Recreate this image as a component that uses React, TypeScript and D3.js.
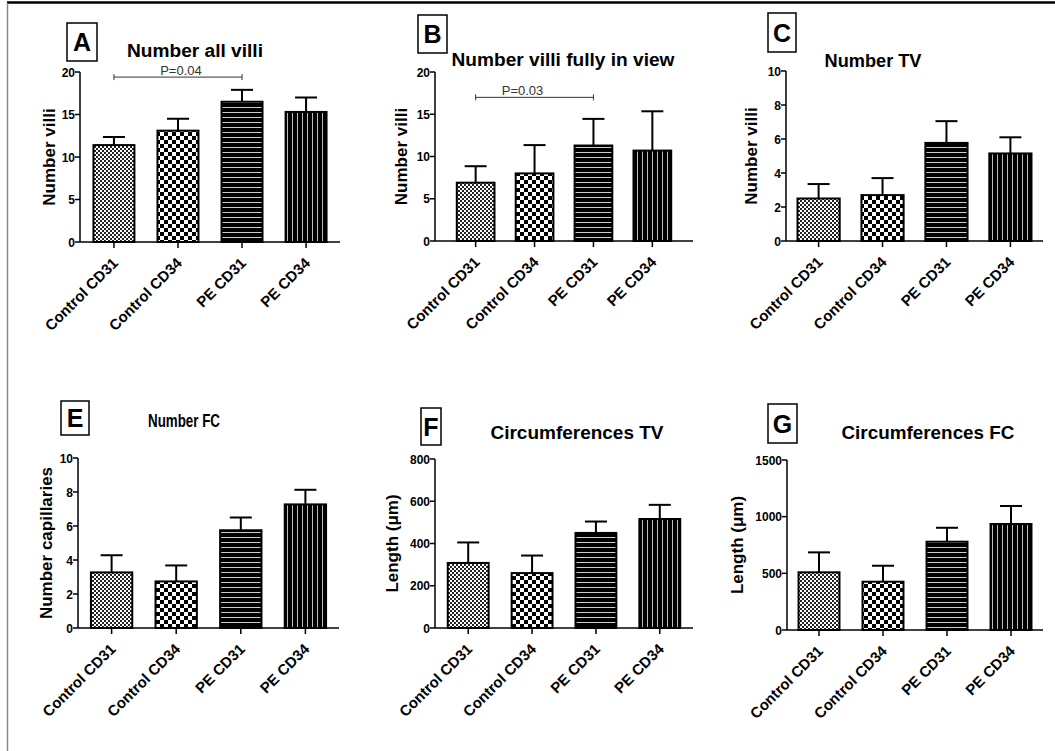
import * as d3 from "d3";

// groups on the x axis (same in every panel)
const categories = ["Control CD31", "Control CD34", "PE CD31", "PE CD34"];

const panelLetters = ["A", "B", "C", "E", "F", "G"];
const panelTitles = [
  "Number all villi",
  "Number villi fully in view",
  "Number TV",
  "Number FC",
  "Circumferences TV",
  "Circumferences FC",
];
const yAxisTitles = [
  "Number villi",
  "Number villi",
  "Number villi",
  "Number capillaries",
  "Length (\u03bcm)",
  "Length (\u03bcm)",
];
const yMax = [20, 20, 10, 10, 800, 1500];
const yStep = [5, 5, 2, 2, 200, 500];

// bar heights (mean) and upper error (SEM) per panel
const meanA = [11.4, 13.1, 16.5, 15.3];
const semA = [0.95, 1.4, 1.4, 1.7];
const meanB = [6.9, 8.0, 11.3, 10.7];
const semB = [1.95, 3.35, 3.15, 4.65];
const meanC = [2.5, 2.7, 5.77, 5.15];
const semC = [0.85, 1.0, 1.28, 0.95];
const meanE = [3.27, 2.74, 5.75, 7.27];
const semE = [1.01, 0.94, 0.75, 0.86];
const meanF = [308, 260, 450, 516];
const semF = [97, 83, 54, 67];
const meanG = [509, 426, 779, 935];
const semG = [176, 141, 123, 159];

const means = [meanA, meanB, meanC, meanE, meanF, meanG];
const sems = [semA, semB, semC, semE, semF, semG];

// significance brackets (panel index, from, to, level, label)
const sigPanels = [0, 1];
const sigFrom = ["Control CD31", "Control CD31"];
const sigTo = ["PE CD31", "PE CD31"];
const sigLevel = [19.4, 17.0];
const sigText = ["P=0.04", "P=0.03"];

// layout of each panel in page pixels
const layout = [
  { x0: 80, x1: 340, yTop: 72, yBot: 242, pi: 0.36, po: 0.21, box: [67, 23, 30, 38], title: [195, 57, 136], yl: 55, sigDx: 3 },
  { x0: 435, x1: 693, yTop: 72, yBot: 241, pi: 0.36, po: 0.37, box: [418, 15, 29, 38], title: [563, 66, 223], yl: 407, sigDx: -12 },
  { x0: 786, x1: 1043, yTop: 71, yBot: 241, pi: 0.34, po: 0.18, box: [768, 13, 28, 39], title: [873, 67, 97], yl: 757, sigDx: 0 },
  { x0: 78, x1: 339, yTop: 458, yBot: 628, pi: 0.36, po: 0.2, box: [61, 401, 28, 34], title: [184, 427, 72], yl: 52, sigDx: 0 },
  { x0: 435, x1: 693, yTop: 459, yBot: 628, pi: 0.36, po: 0.2, box: [421, 408, 20, 37], title: [577, 439, 173], yl: 398, sigDx: 0 },
  { x0: 787, x1: 1043, yTop: 460, yBot: 630, pi: 0.36, po: 0.18, box: [768, 404, 29, 39], title: [928, 439, 173], yl: 743, sigDx: 0 },
];

const font = "'Liberation Sans', Arial, sans-serif";
const fills = ["url(#fineCheck)", "url(#bigCheck)", "url(#hLines)", "url(#vLines)"];

function Panel({ i }: { i: number }) {
  const L = layout[i];
  const x = d3
    .scaleBand()
    .domain(categories)
    .range([L.x0, L.x1])
    .paddingInner(L.pi)
    .paddingOuter(L.po);
  const y = d3.scaleLinear().domain([0, yMax[i]]).range([L.yBot, L.yTop]);
  const ticks = d3.range(0, yMax[i] + yStep[i] / 2, yStep[i]);
  const bw = x.bandwidth();
  const sigIdx = sigPanels.indexOf(i);
  const [bx, by, bwid, bh] = L.box;
  const [tx, tyy, tw] = L.title;

  return (
    <g fontFamily={font}>
      {/* panel letter box */}
      <rect x={bx} y={by} width={bwid} height={bh} fill="none" stroke="#000" strokeWidth={1.5} />
      <text x={bx + bwid / 2} y={by + bh / 2 + 9} textAnchor="middle" fontSize={25} fontWeight="bold">
        {panelLetters[i]}
      </text>
      <text x={tx} y={tyy} textAnchor="middle" fontSize={18} fontWeight="bold"
        textLength={tw} lengthAdjust="spacingAndGlyphs">
        {panelTitles[i]}
      </text>

      {/* bars */}
      {categories.map((c, k) => {
        const cx = x(c)! + bw / 2;
        const top = y(means[i][k]);
        const et = y(means[i][k] + sems[i][k]);
        return (
          <g key={c}>
            <line x1={cx} x2={cx} y1={top} y2={et} stroke="#000" strokeWidth={2} />
            <line x1={cx - 11} x2={cx + 11} y1={et} y2={et} stroke="#000" strokeWidth={2} />
            <rect x={x(c)} y={top} width={bw} height={L.yBot - top} fill={fills[k]} stroke="#000" strokeWidth={2} />
          </g>
        );
      })}

      {/* y axis */}
      <line x1={L.x0} x2={L.x0} y1={L.yTop} y2={L.yBot} stroke="#000" strokeWidth={1.5} />
      {ticks.map((t) => (
        <g key={t}>
          <line x1={L.x0 - 5} x2={L.x0} y1={y(t)} y2={y(t)} stroke="#000" strokeWidth={1.5} />
          <text x={L.x0 - 5} y={y(t) + 4.5} textAnchor="end" fontSize={12} fontWeight="bold">
            {t}
          </text>
        </g>
      ))}
      <text transform={`translate(${L.yl},${(L.yTop + L.yBot) / 2}) rotate(-90)`} textAnchor="middle"
        fontSize={17} fontWeight="bold">
        {yAxisTitles[i]}
      </text>

      {/* x axis */}
      <line x1={L.x0} x2={L.x1} y1={L.yBot} y2={L.yBot} stroke="#000" strokeWidth={1.5} />
      {categories.map((c) => {
        const cx = x(c)! + bw / 2;
        return (
          <g key={c}>
            <line x1={cx} x2={cx} y1={L.yBot} y2={L.yBot + 6} stroke="#000" strokeWidth={1.5} />
            <text transform={`translate(${cx + 5},${L.yBot + 22}) rotate(-45)`} textAnchor="end"
              fontSize={15} fontWeight="bold">
              {c}
            </text>
          </g>
        );
      })}

      {/* significance bracket */}
      {sigIdx >= 0 && (() => {
        const xa = x(sigFrom[sigIdx])! + bw / 2;
        const xb = x(sigTo[sigIdx])! + bw / 2;
        const ly = y(sigLevel[sigIdx]);
        return (
          <g stroke="#333" strokeWidth={1}>
            <line x1={xa} x2={xb} y1={ly} y2={ly} />
            <line x1={xa} x2={xa} y1={ly - 3} y2={ly + 3} />
            <line x1={xb} x2={xb} y1={ly - 3} y2={ly + 3} />
            <text x={(xa + xb) / 2 + L.sigDx} y={ly - 2} textAnchor="middle" fontSize={13}
              fill="#333" stroke="none">
              {sigText[sigIdx]}
            </text>
          </g>
        );
      })()}
    </g>
  );
}

export default function App() {
  return (
    <div style={{ position: "absolute", left: 0, top: 0 }}>
      <svg width={1055} height={751} style={{ display: "block", background: "#fff" }}>
        <defs>
          <pattern id="fineCheck" width={4} height={4} patternUnits="userSpaceOnUse">
            <rect width={4} height={4} fill="#fff" />
            <rect width={2} height={2} fill="#222" />
            <rect x={2} y={2} width={2} height={2} fill="#222" />
          </pattern>
          <pattern id="bigCheck" width={8} height={8} patternUnits="userSpaceOnUse">
            <rect width={8} height={8} fill="#fff" />
            <rect width={4} height={4} fill="#000" />
            <rect x={4} y={4} width={4} height={4} fill="#000" />
          </pattern>
          <pattern id="hLines" width={5} height={5} patternUnits="userSpaceOnUse">
            <rect width={5} height={5} fill="#000" />
            <rect y={2} width={5} height={1} fill="#ccc" />
          </pattern>
          <pattern id="vLines" width={5} height={5} patternUnits="userSpaceOnUse">
            <rect width={5} height={5} fill="#000" />
            <rect x={2} width={1} height={5} fill="#bbb" />
          </pattern>
        </defs>
        {/* frame */}
        <line x1={7} x2={1055} y1={2.5} y2={2.5} stroke="#000" strokeWidth={2.5} />
        <line x1={7.5} x2={7.5} y1={3} y2={751} stroke="#888" strokeWidth={1.5} />
        {panelLetters.map((_, i) => (
          <Panel key={i} i={i} />
        ))}
      </svg>
    </div>
  );
}
